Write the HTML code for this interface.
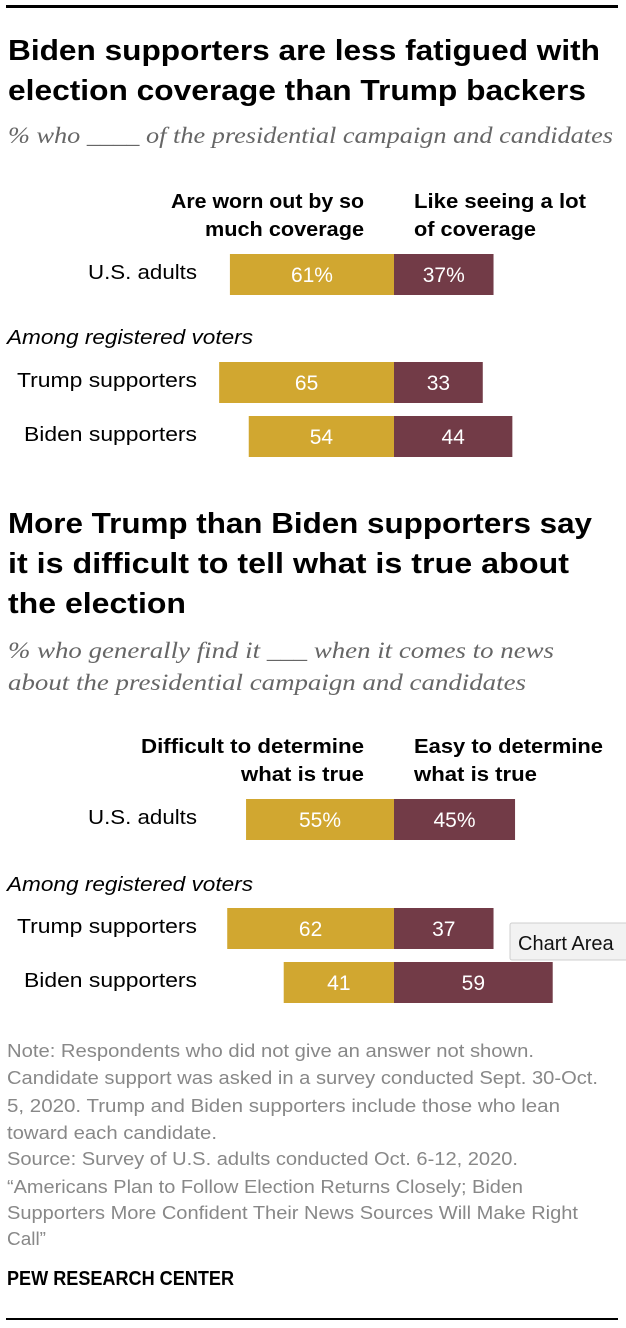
<!DOCTYPE html>
<html><head><meta charset="utf-8"><style>
html,body{margin:0;padding:0;background:#fff;width:626px;height:1328px;overflow:hidden}
svg{display:block}
.t{font-family:"Liberation Sans Narrow","Liberation Sans",sans-serif;font-weight:bold;font-size:29px;fill:#000}
.s{font-family:"Liberation Serif",serif;font-style:italic;font-size:23px;fill:#666}
.h{font-family:"Liberation Sans Narrow","Liberation Sans",sans-serif;font-weight:bold;font-size:20px;fill:#000}
.l{font-family:"Liberation Sans",sans-serif;font-size:20px;fill:#000}
.v{font-family:"Liberation Sans",sans-serif;font-size:21px;fill:#fff}
.n{font-family:"Liberation Sans Narrow","Liberation Sans",sans-serif;font-size:18px;fill:#888}
</style></head><body>
<svg id="c" width="626" height="1328" xmlns="http://www.w3.org/2000/svg">
<rect x="6" y="5" width="612" height="3" fill="#000"/>
<text class="t" x="8" y="60" textLength="592" lengthAdjust="spacingAndGlyphs">Biden supporters are less fatigued with</text>
<text class="t" x="8" y="100" textLength="578" lengthAdjust="spacingAndGlyphs">election coverage than Trump backers</text>
<text class="s" x="8" y="143" textLength="605" lengthAdjust="spacingAndGlyphs">% who ____ of the presidential campaign and candidates</text>
<text class="h" x="364" y="208" text-anchor="end" textLength="193" lengthAdjust="spacingAndGlyphs">Are worn out by so</text>
<text class="h" x="364" y="236" text-anchor="end" textLength="159" lengthAdjust="spacingAndGlyphs">much coverage</text>
<text class="h" x="414" y="208" textLength="172" lengthAdjust="spacingAndGlyphs">Like seeing a lot</text>
<text class="h" x="414" y="236" textLength="122" lengthAdjust="spacingAndGlyphs">of coverage</text>
<text class="l" x="7" y="344" font-style="italic" textLength="246" lengthAdjust="spacingAndGlyphs">Among registered voters</text>

<text class="t" x="8" y="533" textLength="584" lengthAdjust="spacingAndGlyphs">More Trump than Biden supporters say</text>
<text class="t" x="8" y="573" textLength="561" lengthAdjust="spacingAndGlyphs">it is difficult to tell what is true about</text>
<text class="t" x="8" y="613" textLength="178" lengthAdjust="spacingAndGlyphs">the election</text>
<text class="s" x="8" y="658" textLength="546" lengthAdjust="spacingAndGlyphs">% who generally find it ___ when it comes to news</text>
<text class="s" x="8" y="690" textLength="518" lengthAdjust="spacingAndGlyphs">about the presidential campaign and candidates</text>
<text class="h" x="364" y="753" text-anchor="end" textLength="223" lengthAdjust="spacingAndGlyphs">Difficult to determine</text>
<text class="h" x="364" y="781" text-anchor="end" textLength="123" lengthAdjust="spacingAndGlyphs">what is true</text>
<text class="h" x="414" y="753" textLength="189" lengthAdjust="spacingAndGlyphs">Easy to determine</text>
<text class="h" x="414" y="781" textLength="123" lengthAdjust="spacingAndGlyphs">what is true</text>
<text class="l" x="7" y="891" font-style="italic" textLength="246" lengthAdjust="spacingAndGlyphs">Among registered voters</text>

<g id="bars"></g>

<g>
<rect x="510" y="923" width="120" height="37" fill="#f2f2f2" stroke="#cfcfcf" rx="2"/>
<text x="518" y="950" font-family="Liberation Sans, sans-serif" font-size="20" fill="#111">Chart Area</text>
</g>

<g>
<text class="n" x="7" y="1057" textLength="527" lengthAdjust="spacingAndGlyphs">Note: Respondents who did not give an answer not shown.</text>
<text class="n" x="7" y="1084" textLength="591" lengthAdjust="spacingAndGlyphs">Candidate support was asked in a survey conducted Sept. 30-Oct.</text>
<text class="n" x="7" y="1112" textLength="553" lengthAdjust="spacingAndGlyphs">5, 2020. Trump and Biden supporters include those who lean</text>
<text class="n" x="7" y="1139" textLength="210" lengthAdjust="spacingAndGlyphs">toward each candidate.</text>
<text class="n" x="7" y="1165" textLength="511" lengthAdjust="spacingAndGlyphs">Source: Survey of U.S. adults conducted Oct. 6-12, 2020.</text>
<text class="n" x="7" y="1193" textLength="516" lengthAdjust="spacingAndGlyphs">“Americans Plan to Follow Election Returns Closely; Biden</text>
<text class="n" x="7" y="1219" textLength="571" lengthAdjust="spacingAndGlyphs">Supporters More Confident Their News Sources Will Make Right</text>
<text class="n" x="7" y="1245" textLength="39" lengthAdjust="spacingAndGlyphs">Call”</text>
</g>
<text class="h" x="7" y="1285" font-size="18" textLength="227" lengthAdjust="spacingAndGlyphs">PEW RESEARCH CENTER</text>
<rect x="6" y="1318" width="612" height="2" fill="#000"/>
</svg>
<script>
const rowLabels1 = ["U.S. adults", "Trump supporters", "Biden supporters"];
const wornOut = [61, 65, 54];
const likeSeeing = [37, 33, 44];
const valueLabels1L = ["61%", "65", "54"];
const valueLabels1R = ["37%", "33", "44"];
const rowLabels2 = ["U.S. adults", "Trump supporters", "Biden supporters"];
const difficult = [55, 62, 41];
const easy = [45, 37, 59];
const valueLabels2L = ["55%", "62", "41"];
const valueLabels2R = ["45%", "37", "59"];
const labelWidths = {"U.S. adults":109, "Trump supporters":180, "Biden supporters":173};

const NS = "http://www.w3.org/2000/svg";
const center = 394, pxPer = 2.69, barH = 41;
const x = v => v * pxPer;
const g = document.getElementById('bars');
function mk(tag, attrs){const e=document.createElementNS(NS,tag);for(const k in attrs)e.setAttribute(k,attrs[k]);g.appendChild(e);return e;}
function drawChart(labels, left, right, vl, vr, tops, prefix){
  labels.forEach((lab,i)=>{
    const y=tops[i];
    const t=mk('text',{class:'l',x:197,y:y+25,'text-anchor':'end',textLength:labelWidths[lab],lengthAdjust:'spacingAndGlyphs'});
    t.textContent=lab;
    
    
    const wl=x(left[i]);
    const r1=mk('rect',{x:center-wl,y:y,width:wl,height:barH,fill:'#D1A730'});
    
    
    const wr=x(right[i]);
    const r2=mk('rect',{x:center,y:y,width:wr,height:barH,fill:'#723B47'});
    
    
    const a=mk('text',{class:'v',x:center-wl/2,y:y+28,'text-anchor':'middle'});
    a.textContent=vl[i];
    
    
    const b=mk('text',{class:'v',x:center+wr/2,y:y+28,'text-anchor':'middle'});
    b.textContent=vr[i];
    
    
  });
}
drawChart(rowLabels1, wornOut, likeSeeing, valueLabels1L, valueLabels1R, [254,362,416], 'chart1');
drawChart(rowLabels2, difficult, easy, valueLabels2L, valueLabels2R, [799,908,962], 'chart2');
</script>
</body></html>
